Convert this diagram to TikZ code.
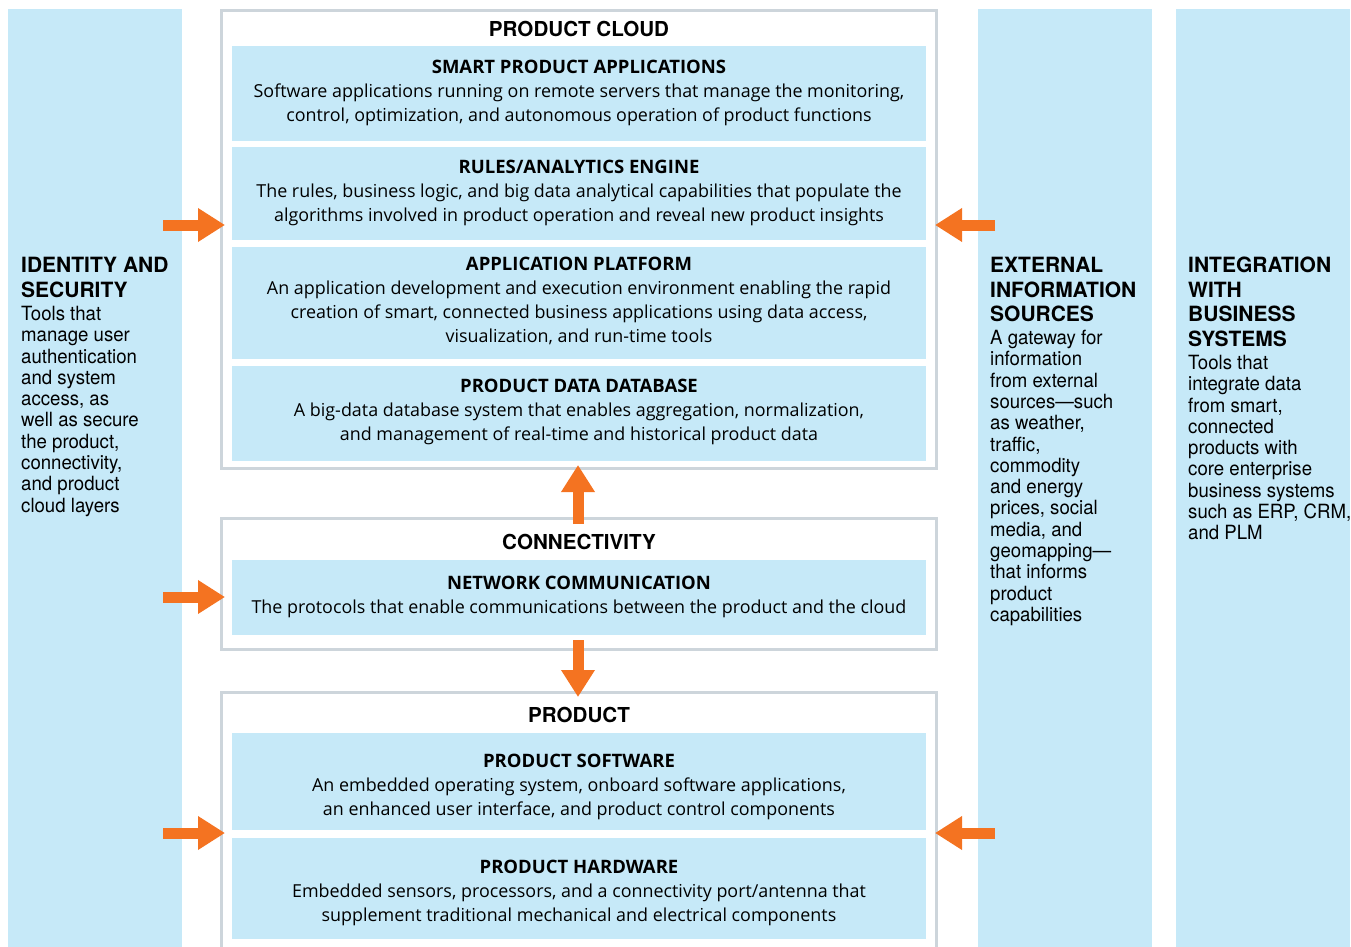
\documentclass[tikz,border=0pt]{standalone}
\usepackage{fontspec}
\newfontfamily\boxfont{Open Sans}
\newfontfamily\sidefont{TeX Gyre Heros}
\newfontfamily\sidenarrow[FakeStretch=0.95]{TeX Gyre Heros}
\usetikzlibrary{arrows.meta}
\definecolor{lblue}{RGB}{198,233,248}
\definecolor{fgray}{RGB}{205,213,219}
\definecolor{orng}{RGB}{244,115,33}
\newcommand{\boxhead}[1]{{\fontsize{18.5}{24}\selectfont\bfseries #1}}
\begin{document}
\begin{tikzpicture}[x=1pt,y=-1pt,
  column/.style={fill=lblue},
  frame/.style={draw=fgray, line width=2.5pt},
  layer/.style={fill=lblue},
  boxtext/.style={font=\boxfont\fontsize{17.9}{24}\selectfont, align=center, inner sep=0pt},
  frametitle/.style={font=\sidefont\bfseries\fontsize{20.6}{24}\selectfont, inner sep=0pt},
  sidehead/.style={font=\sidefont\bfseries\fontsize{21}{24.5}\selectfont, align=left, inner sep=0pt, anchor=north west},
  sidebody/.style={font=\sidenarrow\fontsize{19.6}{21.3}\selectfont, align=left, inner sep=0pt, anchor=north west},
  flow/.style={draw=orng, line width=11pt, -{Triangle[length=27pt,width=32pt]}},
]
\useasboundingbox (0,0) rectangle (1351,947);
\clip (0,0) rectangle (1351,947);

% side columns
\fill[column] (8,9) rectangle (182,960);
\fill[column] (978,9) rectangle (1152,960);
\fill[column] (1176,9) rectangle (1350,960);

% frames
\draw[frame] (221.3,10.3) rectangle (936.3,468.5);
\draw[frame] (221.3,518.5) rectangle (936.3,649.5);
\draw[frame] (221.3,692.5) rectangle (936.3,970);

% layers
\fill[layer] (232,46) rectangle (926,141);
\fill[layer] (232,147) rectangle (926,240);
\fill[layer] (232,247) rectangle (926,359);
\fill[layer] (232,366) rectangle (926,461);
\fill[layer] (232,560) rectangle (926,635);
\fill[layer] (232,733) rectangle (926,830);
\fill[layer] (232,838) rectangle (926,939);

% frame titles
\node[frametitle] (cloudT) at (579,29) {PRODUCT CLOUD};
\node[frametitle] (connT) at (579,542) {CONNECTIVITY};
\node[frametitle] (prodT) at (579,715) {PRODUCT};

% layer texts
\node[boxtext] (smart) at (579,92.5) {\boxhead{SMART PRODUCT APPLICATIONS}\\
Software applications running on remote servers that manage the monitoring,\\
control, optimization, and autonomous operation of product functions};
\node[boxtext] (rules) at (579,193) {\boxhead{RULES/ANALYTICS ENGINE}\\
The rules, business logic, and big data analytical capabilities that populate the\\
algorithms involved in product operation and reveal new product insights};
\node[boxtext] (platform) at (579,301) {\boxhead{APPLICATION PLATFORM}\\
An application development and execution environment enabling the rapid\\
creation of smart, connected business applications using data access,\\
visualization, and run-time tools};
\node[boxtext] (database) at (579,412) {\boxhead{PRODUCT DATA DATABASE}\\
A big-data database system that enables aggregation, normalization,\\
and management of real-time and historical product data};
\node[boxtext] (network) at (579,597) {\boxhead{NETWORK COMMUNICATION}\\
The protocols that enable communications between the product and the cloud};
\node[boxtext] (software) at (579,787) {\boxhead{PRODUCT SOFTWARE}\\
An embedded operating system, onboard software applications,\\
an enhanced user interface, and product control components};
\node[boxtext] (hardware) at (579,893) {\boxhead{PRODUCT HARDWARE}\\
Embedded sensors, processors, and a connectivity port/antenna that\\
supplement traditional mechanical and electrical components};

% side texts
\node[sidehead] (idH) at (21,257) {IDENTITY AND\\SECURITY};
\node[sidebody] (idB) at (21,306) {Tools that\\manage user\\authentication\\and system\\access, as\\well as secure\\the product,\\connectivity,\\and product\\cloud layers};
\node[sidehead] (extH) at (990,257) {EXTERNAL\\INFORMATION\\SOURCES};
\node[sidebody] (extB) at (990,330) {A gateway for\\information\\from external\\sources—such\\as weather,\\traffic,\\commodity\\and energy\\prices, social\\media, and\\geomapping—\\that informs\\product\\capabilities};
\node[sidehead] (intH) at (1188,257) {INTEGRATION\\WITH\\BUSINESS\\SYSTEMS};
\node[sidebody] (intB) at (1188,355) {Tools that\\integrate data\\from smart,\\connected\\products with\\core enterprise\\business systems\\such as ERP, CRM,\\and PLM};

% arrow anchors
\coordinate (idA1) at (163,225);  \coordinate (cloudL) at (225,225);
\coordinate (idA2) at (163,597);  \coordinate (connL) at (225,597);
\coordinate (idA3) at (163,833);  \coordinate (prodL) at (225,833);
\coordinate (extA1) at (995,225); \coordinate (cloudR) at (935,225);
\coordinate (extA2) at (995,833); \coordinate (prodR) at (935,833);
\coordinate (connTop) at (578,524); \coordinate (cloudBot) at (578,465);
\coordinate (connBot) at (578,640); \coordinate (prodTop) at (578,697);

\draw[flow] (idA1) -- (cloudL);
\draw[flow] (idA2) -- (connL);
\draw[flow] (idA3) -- (prodL);
\draw[flow] (extA1) -- (cloudR);
\draw[flow] (extA2) -- (prodR);
\draw[flow] (connTop) -- (cloudBot);
\draw[flow] (connBot) -- (prodTop);
\end{tikzpicture}
\end{document}
